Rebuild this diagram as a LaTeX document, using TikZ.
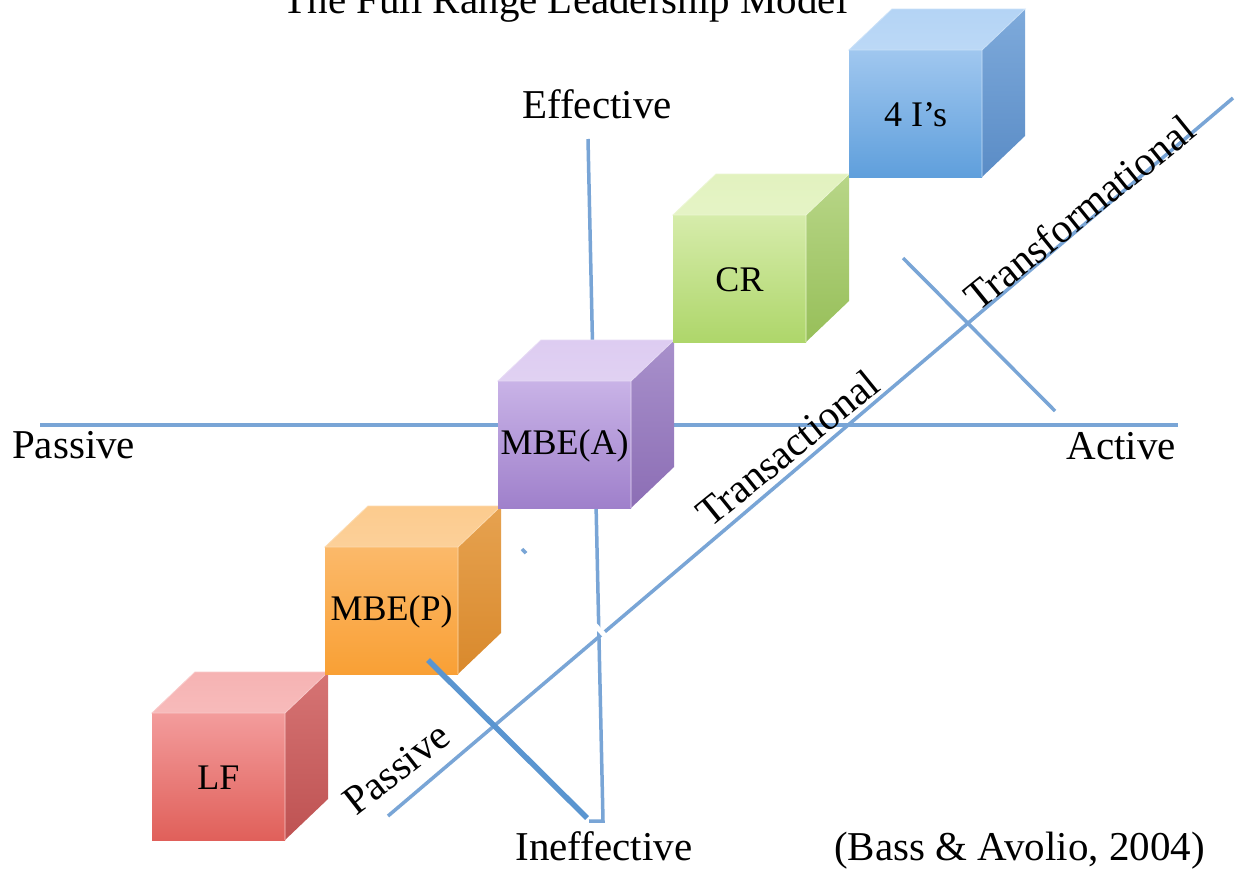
\documentclass[tikz,border=0pt]{standalone}
\usepackage{fontspec}
\setmainfont{Liberation Serif}
\usetikzlibrary{calc}
\definecolor{axisblue}{HTML}{79A5D6}
\definecolor{thickblue}{HTML}{5A95D0}
\definecolor{LFlid}{HTML}{F6B3B3}\definecolor{LFtop}{HTML}{F39C9C}\definecolor{LFbot}{HTML}{E0605A}\definecolor{LFst}{HTML}{D67474}\definecolor{LFsb}{HTML}{BE5252}
\definecolor{MPlid}{HTML}{FCCB8E}\definecolor{MPtop}{HTML}{FBB96A}\definecolor{MPbot}{HTML}{F9A035}\definecolor{MPst}{HTML}{E6A250}\definecolor{MPsb}{HTML}{D9892C}
\definecolor{MAlid}{HTML}{DDCCF1}\definecolor{MAtop}{HTML}{C9B3E7}\definecolor{MAbot}{HTML}{9F80CB}\definecolor{MAst}{HTML}{A890CB}\definecolor{MAsb}{HTML}{8C6EB5}
\definecolor{CRlid}{HTML}{E2F2BF}\definecolor{CRtop}{HTML}{D6ECAB}\definecolor{CRbot}{HTML}{AED66A}\definecolor{CRst}{HTML}{B8D688}\definecolor{CRsb}{HTML}{97BF59}
\definecolor{FIlid}{HTML}{B4D4F5}\definecolor{FItop}{HTML}{A0C7EF}\definecolor{FIbot}{HTML}{5F9FDC}\definecolor{FIst}{HTML}{7EAADB}\definecolor{FIsb}{HTML}{5A8CC6}
\newcommand{\drawcube}[5]{%
  \shade[top color=#1lid, bottom color=#1lid!90!white] (#2,#3) -- (#2+43,#3-41) -- (#2+176,#3-41) -- (#2+133,#3) -- cycle;
  \shade[top color=#1st, bottom color=#1sb] (#2+133,#3) -- (#2+176,#3-41) -- (#2+176,#3+86) -- (#2+133,#3+127) -- cycle;
  \shade[top color=#1top, bottom color=#1bot] (#2,#3) rectangle (#2+133,#3+127);
  \draw[#1lid!70!white, line width=0.8pt] (#2,#3) -- (#2+43,#3-41) -- (#2+176,#3-41) -- (#2+133,#3) -- cycle (#2+133,#3) -- (#2+133,#3+127);
  \node[cubelabel] (#1) at (#2+66.5,#3+65) {#4};
}
\begin{document}
\begin{tikzpicture}[x=1pt,y=-1pt,
  axisline/.style={draw=axisblue, line width=3.5pt},
  lbl/.style={font=\fontsize{41}{45}\selectfont, inner sep=0pt},
  cubelabel/.style={font=\fontsize{36}{40}\selectfont, inner sep=0pt}]
\useasboundingbox (0,0) rectangle (1239,873);
\clip (0,0) rectangle (1239,873);
\fill[white] (0,0) rectangle (1239,873);
% axes coordinates
\coordinate (hL) at (40,425);
\coordinate (hR) at (1178,425);
\coordinate (vT) at (588,139);
\coordinate (vB) at (603,821);
\coordinate (vH) at (589,821);
\coordinate (dL) at (388,816);
\coordinate (dR) at (1233,98);
\coordinate (xT) at (903,258);
\coordinate (xB) at (1055,411);
\coordinate (wS) at (522,549);
\coordinate (wE) at (683,717);
\coordinate (tS) at (428,660);
\coordinate (tE) at (587,818);
\draw[axisline] (hL) -- (hR);
\draw[axisline] (vT) -- (vB) -- (vH);
\draw[axisline] (dL) -- (dR);
\draw[axisline] (xT) -- (xB);
\draw[white, line width=5pt] (wS) -- (wE);
\draw[axisblue, line width=3.5pt] (wS) -- ($(wS)!0.025!(wE)$);
% cubes
\drawcube{LF}{152}{713}{LF}{}
\drawcube{MP}{325}{547}{MBE(P)}{}
\drawcube{MA}{498}{381}{MBE(A)}{}
\drawcube{CR}{673}{215}{CR}{}
\drawcube{FI}{849}{50}{4 I’s}{}
\draw[thickblue, line width=5.5pt] (tS) -- (tE);
% labels
\node[lbl, anchor=base] (title) at (565,13) {The Full Range Leadership Model};
\node[lbl, anchor=base] (eff) at (597,118) {Effective};
\node[lbl, anchor=base west] (pasL) at (12,458) {Passive};
\node[lbl, anchor=base east] (act) at (1176,459) {Active};
\node[lbl, anchor=base] (ineff) at (604,860) {Ineffective};
\node[lbl, anchor=base east] (bass) at (1205,860) {(Bass \& Avolio, 2004)};
\node[lbl, anchor=base west, rotate=39] (transf) at (978,313) {Transformational};
\node[lbl, anchor=base west, rotate=39] (transa) at (710,529) {Transactional};
\node[lbl, anchor=base west, rotate=38] (pasD) at (356,817) {Passive};
\end{tikzpicture}
\end{document}
